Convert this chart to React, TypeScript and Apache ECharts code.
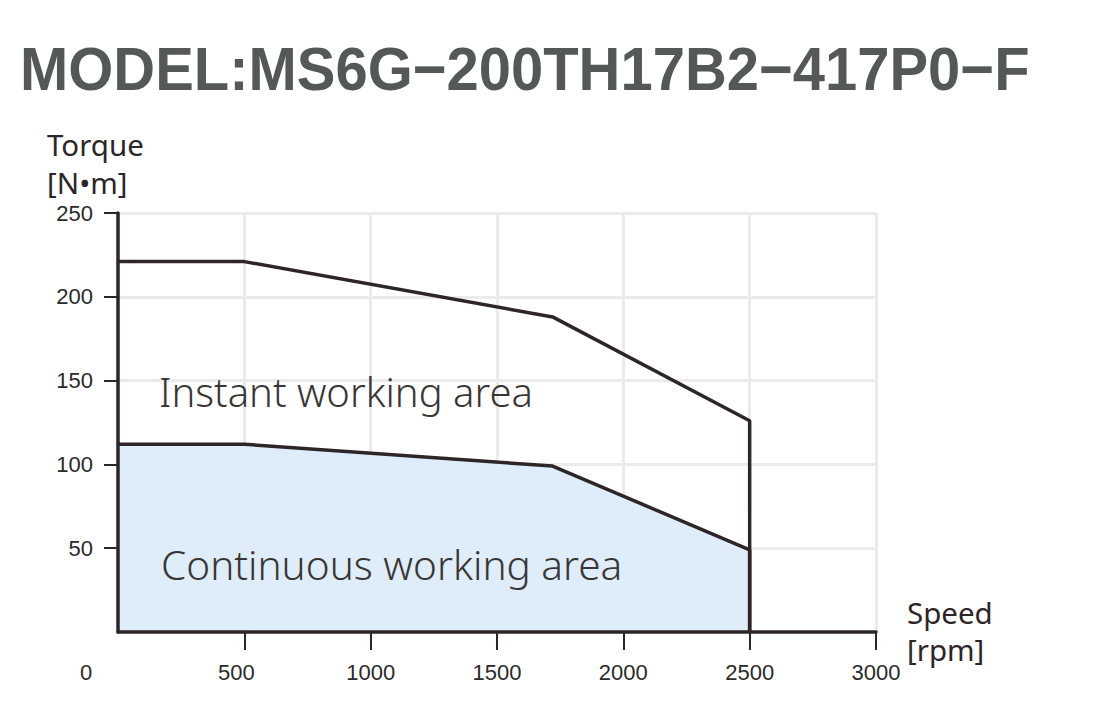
import React, { useEffect, useRef } from "react";
import * as echarts from "echarts";

const titleText = "MODEL:MS6G\u2212200TH17B2\u2212417P0\u2212F";
const speedRpm = [0, 500, 1720, 2500, 2500];
const instantTorque = [221, 221, 188, 126, 0];
const continuousTorque = [112, 112, 99, 49, 0];
const xTickValues = [500, 1000, 1500, 2000, 2500, 3000];
const xLabelValues = [0, 500, 1000, 1500, 2000, 2500, 3000];
const yTickValues = [50, 100, 150, 200, 250];
const instantLabel = "Instant working area";
const continuousLabel = "Continuous working area";
const yAxisNameLines = ["Torque", "[N\u2022m]"];
const xAxisNameLines = ["Speed", "[rpm]"];

const LINE = "#2d2527";
const GRID = "#ebebeb";
const LABEL = "#2a2a2a";

export default function App() {
  const ref = useRef<HTMLDivElement>(null);
  useEffect(() => {
    if (!ref.current) return;
    const chart = echarts.init(ref.current, undefined, { renderer: "svg" });
    const zip = (ys: number[]) => speedRpm.map((x, i) => [x, ys[i]]);
    const tickFont = { fontFamily: "Liberation Sans, Arial, sans-serif", fontSize: 22, color: LABEL };
    const nameFont = "29.5px 'Noto Sans', sans-serif";
    chart.setOption({
      animation: false,
      backgroundColor: "#ffffff",
      grid: { left: 118, right: 233, top: 213, bottom: 78 },
      xAxis: [
        {
          type: "value",
          min: 0,
          max: 3000,
          interval: 500,
          axisLine: { show: false, onZero: false },
          axisTick: { show: true, length: 18, lineStyle: { color: LINE, width: 2 }, customValues: xTickValues },
          axisLabel: {
            ...tickFont,
            margin: 29,
            customValues: xLabelValues,
            formatter: (v: number) => (v === 0 ? "{z|0}" : v === 500 ? "{f|500}" : String(v)),
            rich: {
              z: { ...tickFont, padding: [0, 64, 0, 0] },
              f: { ...tickFont, padding: [0, 16, 0, 0] },
            },
          },
          splitLine: { show: true, lineStyle: { color: GRID, width: 3 } },
        },
        {
          type: "value",
          min: 0,
          max: 3000,
          position: "bottom",
          z: 10,
          axisLine: { show: true, onZero: false, lineStyle: { color: LINE, width: 3.5 } },
          axisTick: { show: false },
          axisLabel: { show: false },
          splitLine: { show: false },
        },
      ],
      yAxis: [
        {
          type: "value",
          min: 0,
          max: 250,
          interval: 50,
          axisLine: { show: false, onZero: false },
          axisTick: { show: true, length: 14, lineStyle: { color: LINE, width: 2 }, customValues: yTickValues },
          axisLabel: { ...tickFont, margin: 25, customValues: yTickValues },
          splitLine: { show: true, lineStyle: { color: GRID, width: 3 } },
        },
        {
          type: "value",
          min: 0,
          max: 250,
          position: "left",
          z: 10,
          axisLine: { show: true, onZero: false, lineStyle: { color: LINE, width: 3.5 } },
          axisTick: { show: false },
          axisLabel: { show: false },
          splitLine: { show: false },
        },
      ],
      series: [
        {
          name: "Continuous",
          type: "line",
          data: zip(continuousTorque),
          symbol: "none",
          lineStyle: { color: LINE, width: 3.5 },
          areaStyle: { color: "#deedf9", opacity: 1 },
          z: 3,
        },
        {
          name: "Instant",
          type: "line",
          data: zip(instantTorque),
          symbol: "none",
          lineStyle: { color: LINE, width: 3.5 },
          z: 4,
        },
      ],
      graphic: [
        {
          type: "text",
          left: 20,
          top: 38,
          scaleX: 0.95,
          z: 100,
          style: {
            text: titleText,
            font: "bold 61px 'Liberation Sans', Arial, sans-serif",
            fill: "#545858",
          },
        },
        {
          type: "text",
          x: 47,
          y: 129,
          z: 100,
          style: { text: yAxisNameLines[0], font: nameFont, fill: LINE },
        },
        {
          type: "text",
          x: 47,
          y: 167,
          z: 100,
          style: { text: yAxisNameLines[1], font: nameFont, fill: LINE },
        },
        {
          type: "text",
          x: 907,
          y: 597,
          z: 100,
          style: { text: xAxisNameLines[0], font: nameFont, fill: LINE },
        },
        {
          type: "text",
          x: 907,
          y: 634,
          z: 100,
          style: { text: xAxisNameLines[1], font: nameFont, fill: LINE },
        },
        {
          type: "text",
          x: 159,
          y: 391,
          z: 100,
          style: {
            text: instantLabel,
            font: "300 40px 'Noto Sans', sans-serif",
            fill: "#3a3535",
            verticalAlign: "middle",
          },
        },
        {
          type: "text",
          x: 161,
          y: 564,
          z: 100,
          style: {
            text: continuousLabel,
            font: "300 40.5px 'Noto Sans', sans-serif",
            fill: "#3a3535",
            verticalAlign: "middle",
          },
        },
      ],
    });
    return () => chart.dispose();
  }, []);
  return <div ref={ref} style={{ width: 1109, height: 710, margin: -8 }} />;
}
